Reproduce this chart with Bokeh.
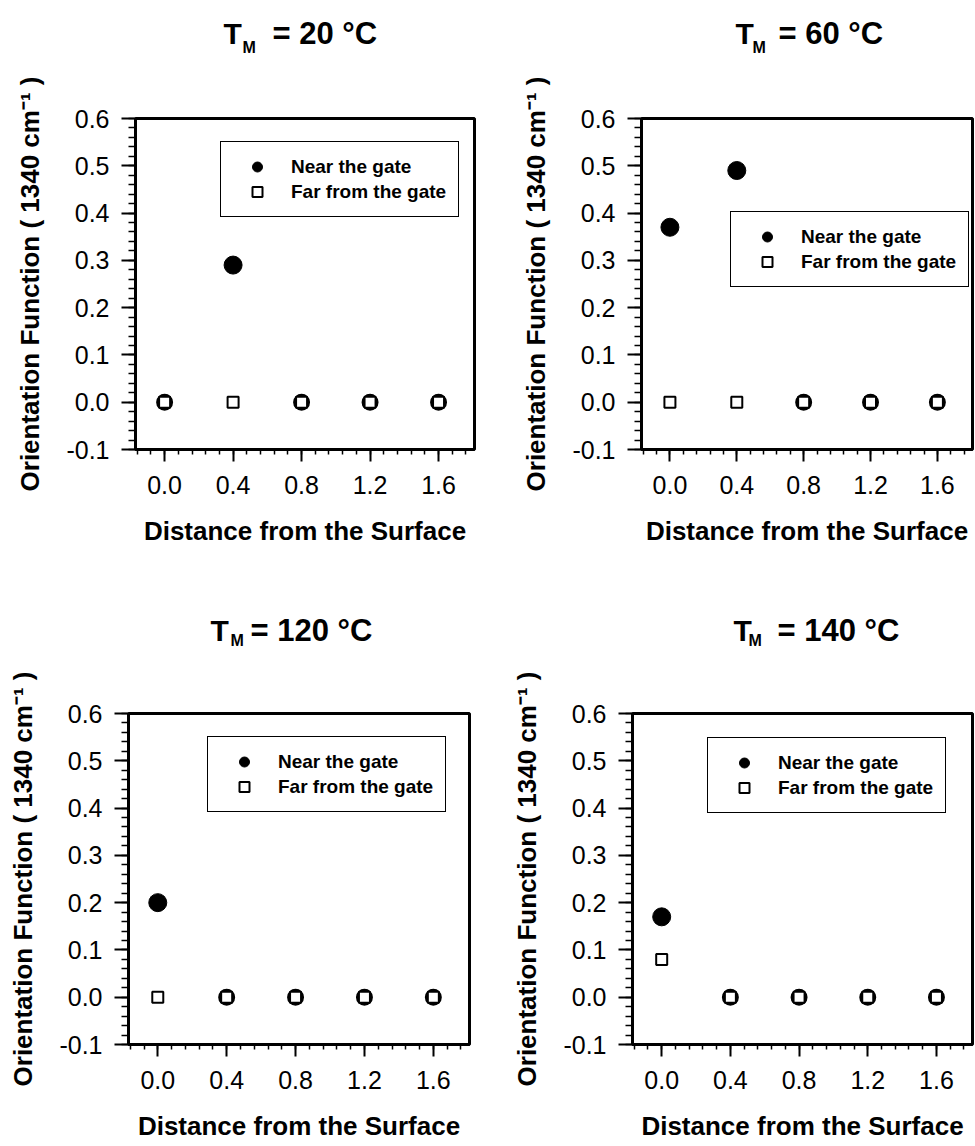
import numpy as np
from bokeh.plotting import figure
from bokeh.models import (ColumnDataSource, CDSView, BooleanFilter, Legend,
                          LegendItem, FixedTicker, PrintfTickFormatter, Range1d)
from bokeh.core.properties import value
from bokeh.layouts import row, column
from bokeh.embed import file_html
from bokeh.resources import INLINE

# ---------------- data ----------------
distance = [0.0, 0.4, 0.8, 1.2, 1.6]
mold_temps = ["20", "60", "120", "140"]
near_20 = [0.0, 0.29, 0.0, 0.0, 0.0]
far_20 = [0.0, 0.0, 0.0, 0.0, 0.0]
near_60 = [0.37, 0.49, 0.0, 0.0, 0.0]
far_60 = [0.0, 0.0, 0.0, 0.0, 0.0]
near_120 = [0.20, 0.0, 0.0, 0.0, 0.0]
far_120 = [0.0, 0.0, 0.0, 0.0, 0.0]
near_140 = [0.17, 0.0, 0.0, 0.0, 0.0]
far_140 = [0.08, 0.0, 0.0, 0.0, 0.0]
x_ticks = [0.0, 0.4, 0.8, 1.2, 1.6]
y_ticks = [-0.1, 0.0, 0.1, 0.2, 0.3, 0.4, 0.5, 0.6]
series_names = ["Near the gate", "Far from the gate"]
x_label = "Distance from the Surface"
y_label = "Orientation Function ( 1340 cm\u207b\u00b9 )"

FONT = "Liberation Sans"
X0, X1 = -0.17, 1.81
Y0, Y1 = -0.1, 0.6

# layout of each panel: title strip height, plot size, borders, title text positions, legend
panels = [
    dict(temp=mold_temps[0], near=near_20, far=far_20, W=490, TH=70, H=505,
         bl=135, br=16, bt=48, bb=126, tx=(223, 242, 272), ty=(33, 47), leg=(85, 232)),
    dict(temp=mold_temps[1], near=near_60, far=far_60, W=485, TH=70, H=505,
         bl=151, br=3, bt=48, bb=126, tx=(245, 262, 288), ty=(33, 47), leg=(89, 162)),
    dict(temp=mold_temps[2], near=near_120, far=far_120, W=490, TH=90, H=481,
         bl=128, br=21, bt=48, bb=102, tx=(210, 230, 250), ty=(55, 65), leg=(79, 232)),
    dict(temp=mold_temps[3], near=near_140, far=far_140, W=485, TH=90, H=481,
         bl=142, br=3, bt=48, bb=102, tx=(243, 258, 287), ty=(55, 65), leg=(75, 231)),
]


def make_title(cfg):
    W, TH = cfg["W"], cfg["TH"]
    t = figure(width=W, height=TH, x_range=Range1d(0, W), y_range=Range1d(TH, 0),
               output_backend="svg", toolbar_location=None, title=None,
               x_axis_type=None, y_axis_type=None,
               min_border_left=0, min_border_right=0, min_border_top=0, min_border_bottom=0)
    t.grid.visible = False
    t.outline_line_color = None
    t.background_fill_color = "white"
    t.border_fill_color = "white"
    tx, ty = cfg["tx"], cfg["ty"]
    t.text(x=[tx[0]], y=[ty[0]], text=["T"], text_font=value(FONT),
           text_font_size="30px", text_font_style="bold", text_color="black",
           text_baseline="alphabetic", text_align="left")
    t.text(x=[tx[1]], y=[ty[1]], text=["M"], text_font=value(FONT),
           text_font_size="16px", text_font_style="bold", text_color="black",
           text_baseline="alphabetic", text_align="left")
    t.text(x=[tx[2]], y=[ty[0]], text=["= %s \u00b0C" % cfg["temp"]], text_font=value(FONT),
           text_font_size="31px", text_font_style="bold", text_color="black",
           text_baseline="alphabetic", text_align="left")
    return t


def make_panel(cfg):
    W, H = cfg["W"], cfg["H"]
    p = figure(width=W, height=H, x_range=Range1d(X0, X1), y_range=Range1d(Y0, Y1),
               output_backend="svg", toolbar_location=None, title=None,
               min_border_left=cfg["bl"], min_border_right=cfg["br"],
               min_border_top=cfg["bt"], min_border_bottom=cfg["bb"])
    p.grid.visible = False
    p.background_fill_color = "white"
    p.border_fill_color = "white"
    p.outline_line_color = "black"
    p.outline_line_width = 3
    p.outline_line_alpha = 1.0

    xa = p.xaxis[0]
    xa.ticker = FixedTicker(ticks=x_ticks,
                            minor_ticks=[round(v, 2) for v in np.arange(-0.16, 1.81, 0.08)])
    xa.formatter = PrintfTickFormatter(format="%.1f")
    ya = p.yaxis[0]
    ya.ticker = FixedTicker(ticks=y_ticks,
                            minor_ticks=[round(v, 2) for v in np.arange(-0.1, 0.6001, 0.02)])
    ya.formatter = PrintfTickFormatter(format="%.1f")
    for ax in (xa, ya):
        ax.axis_line_width = 3
        ax.axis_line_color = "black"
        ax.major_tick_line_width = 2
        ax.minor_tick_line_width = 1.5
        ax.major_tick_in = 0
        ax.minor_tick_in = 0
        ax.major_label_text_font = FONT
        ax.major_label_text_font_size = "25px"
        ax.major_label_text_color = "black"
        ax.axis_label_text_font = FONT
        ax.axis_label_text_font_size = "26px"
        ax.axis_label_text_font_style = "bold"
        ax.axis_label_text_color = "black"
    xa.major_tick_out = 12
    xa.minor_tick_out = 5
    xa.major_label_standoff = 14
    xa.axis_label = x_label
    xa.axis_label_standoff = 19
    ya.major_tick_out = 14
    ya.minor_tick_out = 7
    ya.major_label_standoff = 12
    ya.axis_label = y_label
    ya.axis_label_standoff = 18

    near = cfg["near"]
    far = cfg["far"]
    src_near = ColumnDataSource(dict(x=distance, y=near))
    src_far = ColumnDataSource(dict(x=distance, y=far))
    nonzero = [v != 0 for v in near]
    zero = [v == 0 for v in near]

    # near-gate zeros overlap the far-gate squares and show as thick rings
    p.scatter("x", "y", source=src_near, view=CDSView(filter=BooleanFilter(zero)),
              marker="circle", size=13.5, fill_color="white", line_color="black",
              line_width=3.5)
    r_far = p.scatter("x", "y", source=src_far, marker="square", size=11,
                      fill_color="white", line_color="black", line_width=2)
    r_near = p.scatter("x", "y", source=src_near, view=CDSView(filter=BooleanFilter(nonzero)),
                       marker="circle", size=18, fill_color="black", line_color="black")

    legend = Legend(items=[LegendItem(label=series_names[0], renderers=[r_near]),
                           LegendItem(label=series_names[1], renderers=[r_far])],
                    location=cfg["leg"], orientation="vertical",
                    border_line_color="black", border_line_width=1.5, border_line_alpha=1,
                    background_fill_color="white", background_fill_alpha=1,
                    label_text_font=FONT, label_text_font_size="19px",
                    label_text_font_style="bold", label_text_color="black",
                    glyph_width=48, glyph_height=25, label_height=25, label_standoff=10,
                    padding=12, spacing=0, margin=0)
    p.add_layout(legend)
    return p


titles = [make_title(c) for c in panels]
figs = [make_panel(c) for c in panels]
layout = column(
    row(titles[0], titles[1], spacing=0),
    row(figs[0], figs[1], spacing=0),
    row(titles[2], titles[3], spacing=0),
    row(figs[2], figs[3], spacing=0),
    spacing=0,
)

open("out.html", "w").write(file_html(layout, INLINE))
